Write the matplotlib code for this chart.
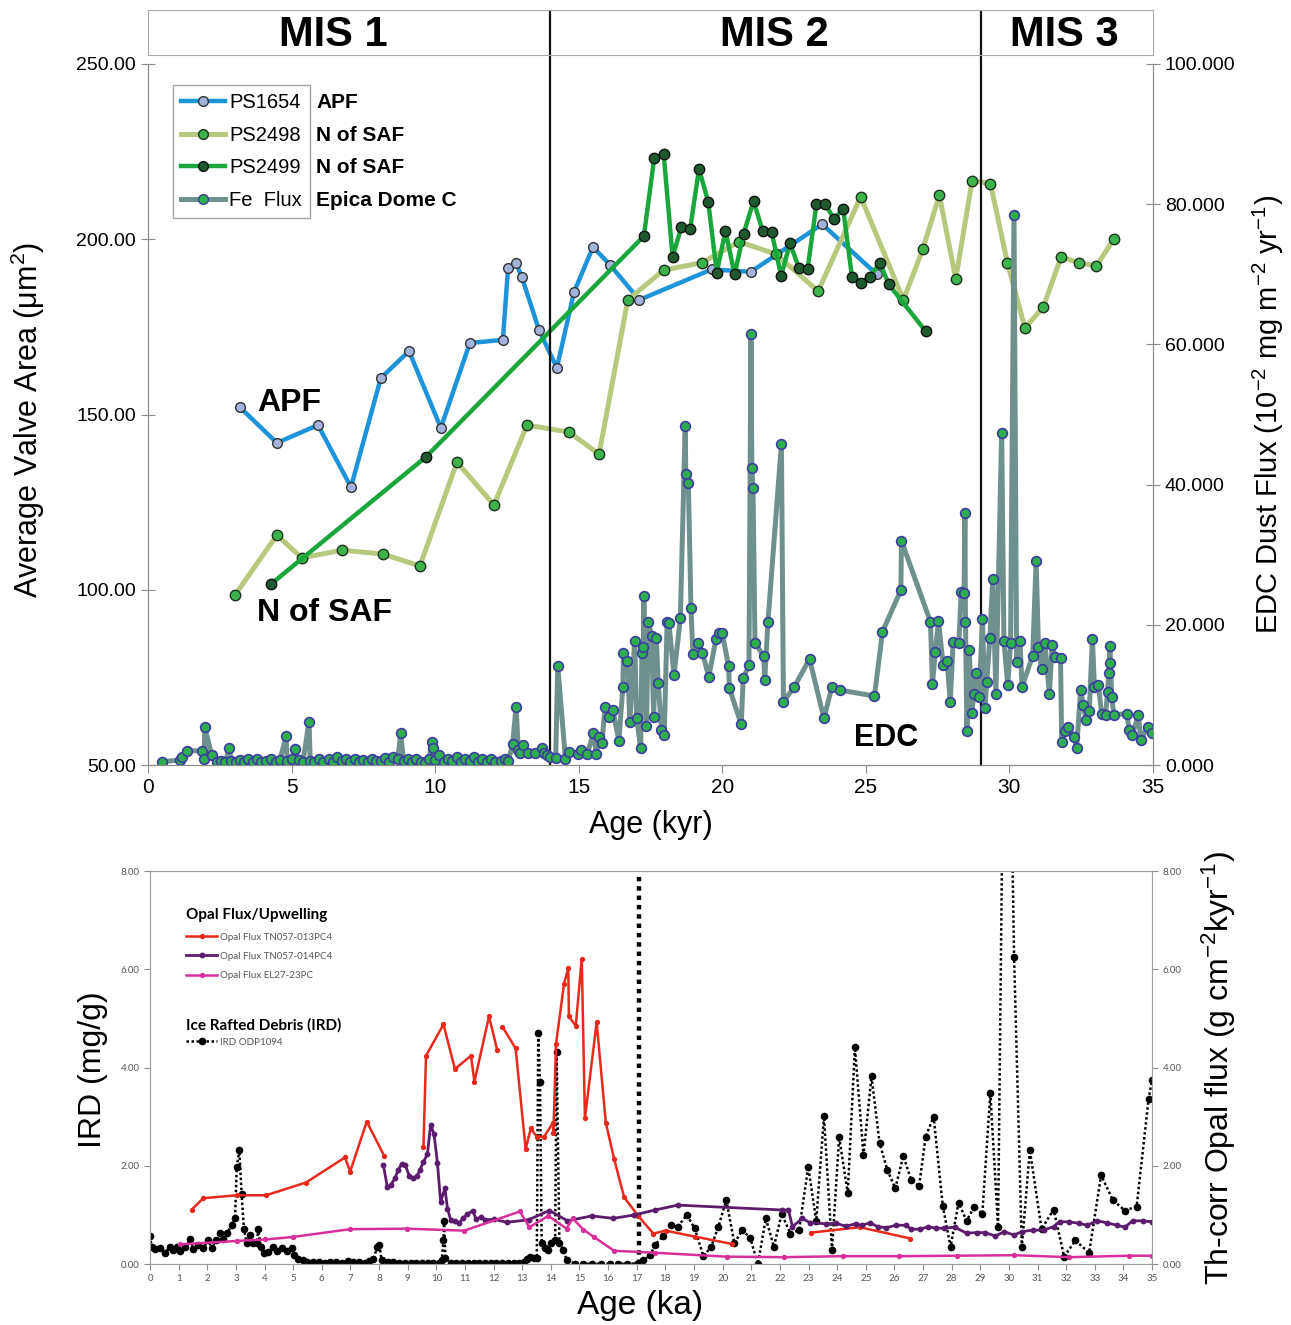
import numpy as np
import matplotlib
matplotlib.use("Agg")
import matplotlib.pyplot as plt
from matplotlib.lines import Line2D
from matplotlib import font_manager

plt.rcParams['font.family'] = ['Liberation Sans', 'DejaVu Sans']
plt.rcParams['mathtext.default'] = 'regular'
_names = {f.name for f in font_manager.fontManager.ttflist}
NARROW = 'Liberation Sans Narrow' if 'Liberation Sans Narrow' in _names else 'Liberation Sans'
SMALL = 'Lato' if 'Lato' in _names else 'DejaVu Sans'

# ---------------- top panel data (valve area, EDC dust) ----------------
ps1654_age = [3.2, 4.49, 5.92, 7.07, 8.11, 9.09, 10.2, 11.21, 12.36, 12.54, 12.82, 13.02, 13.62,
              14.24, 14.84, 15.5, 16.09, 17.11, 19.63, 20.99, 23.48, 25.38]
ps1654_val = [152.1, 141.9, 147.0, 129.3, 160.4, 168.1, 146.2, 170.4, 171.3, 191.8, 193.2, 189.2, 174.1,
              163.3, 185.0, 197.8, 192.7, 182.7, 191.4, 190.7, 204.3, 190.0]

ps2498_age = [3.03, 4.49, 5.36, 6.76, 8.18, 9.47, 10.76, 12.05, 13.2, 14.66, 15.71, 16.71, 17.96, 19.29,
              20.59, 21.86, 23.34, 24.82, 26.31, 26.98, 27.56, 28.13, 28.70, 29.34, 29.93, 30.54, 31.18,
              31.80, 32.41, 33.03, 33.65]
ps2498_val = [98.5, 115.6, 109.1, 111.3, 110.2, 106.8, 136.4, 124.2, 147.0, 145.0, 138.7, 182.7, 191.2, 193.3,
              199.3, 195.8, 185.2, 212.1, 182.7, 197.1, 212.6, 188.7, 216.7, 215.9, 193.3, 174.7, 180.6,
              195.0, 193.3, 192.4, 200.2]

ps2499_age = [4.28, 9.68, 17.27, 17.63, 17.96, 18.27, 18.58, 18.88, 19.19, 19.51, 19.81, 20.11, 20.43,
              20.74, 21.09, 21.41, 21.72, 22.05, 22.36, 22.67, 22.97, 23.28, 23.59, 23.89, 24.21, 24.52,
              24.83, 25.14, 25.49, 25.80, 27.08]
ps2499_val = [101.6, 137.9, 200.9, 223.1, 224.3, 195.0, 203.6, 202.8, 220.1, 210.7, 190.5, 202.4, 190.0,
              201.5, 210.9, 202.3, 202.0, 189.6, 198.9, 191.8, 191.4, 210.0, 210.0, 205.8, 208.7, 189.1,
              187.4, 189.3, 193.3, 187.1, 173.8]

edc_age = [0.48, 1.11, 1.17, 1.35, 1.87, 1.95, 1.98, 2.22, 2.40, 2.55, 2.70, 2.83, 2.90, 3.05, 3.20, 3.35,
           3.50, 3.65, 3.80, 3.95, 4.10, 4.30, 4.45, 4.60, 4.81, 4.85, 5.00, 5.12, 5.25, 5.40, 5.61, 5.65,
           5.80, 5.95, 6.10, 6.30, 6.45, 6.60, 6.75, 6.90, 7.05, 7.20, 7.35, 7.50, 7.65, 7.80, 7.95, 8.10,
           8.25, 8.40, 8.55, 8.70, 8.80, 8.90, 9.05, 9.20, 9.35, 9.50, 9.65, 9.80, 9.88, 9.92, 10.00, 10.15,
           10.30, 10.45, 10.60, 10.75, 10.90, 11.05, 11.20, 11.35, 11.50, 11.65, 11.80, 11.95, 12.10, 12.30,
           12.45, 12.55, 12.70, 12.82, 12.90, 12.96, 13.07, 13.25, 13.48, 13.71, 13.79, 13.88, 14.00, 14.20,
           14.27, 14.54, 14.68, 14.96, 15.09, 15.30, 15.51, 15.62, 15.71, 15.81, 15.92, 16.06, 16.19, 16.40,
           16.54, 16.56, 16.70, 16.78, 16.95, 17.02, 17.16, 17.20, 17.25, 17.27, 17.36, 17.43, 17.54, 17.61,
           17.70, 17.77, 17.88, 17.98, 18.08, 18.14, 18.32, 18.54, 18.71, 18.73, 18.82, 18.91, 18.98, 19.17,
           19.31, 19.53, 19.78, 19.90, 20.00, 20.22, 20.25, 20.66, 20.73, 20.93, 21.00, 21.03, 21.07, 21.14,
           21.44, 21.48, 21.59, 22.06, 22.13, 22.51, 23.04, 23.54, 23.82, 24.09, 25.30, 25.58, 26.22, 26.24,
           27.25, 27.32, 27.42, 27.53, 27.69, 27.83, 27.94, 28.04, 28.24, 28.32, 28.42, 28.45, 28.47, 28.52,
           28.60, 28.69, 28.76, 28.84, 28.95, 29.06, 29.15, 29.21, 29.32, 29.42, 29.53, 29.73, 29.81, 29.94,
           30.04, 30.16, 30.25, 30.37, 30.44, 30.81, 30.93, 31.01, 31.12, 31.24, 31.39, 31.49, 31.59, 31.78,
           31.82, 31.94, 32.05, 32.25, 32.34, 32.48, 32.57, 32.67, 32.78, 32.89, 32.96, 33.10, 33.21, 33.35,
           33.42, 33.46, 33.50, 33.52, 33.56, 33.64, 34.08, 34.18, 34.28, 34.49, 34.58, 34.81, 34.98]
edc_val = [0.47, 0.71, 1.19, 2.04, 2.04, 0.85, 5.37, 1.43, 0.50, 0.60, 0.40, 2.37, 0.55, 0.45, 0.70, 0.40,
           0.85, 0.50, 0.90, 0.45, 0.60, 0.90, 0.50, 0.75, 4.13, 0.60, 0.90, 2.23, 0.70, 0.50, 6.18, 0.60,
           0.40, 0.80, 0.50, 0.90, 0.40, 1.20, 0.60, 0.90, 0.45, 0.80, 0.40, 0.70, 0.50, 0.90, 0.55, 0.60,
           1.00, 0.45, 1.20, 0.80, 4.51, 0.60, 0.90, 0.40, 0.80, 0.50, 0.30, 0.80, 3.33, 2.37, 0.70, 1.40,
           0.50, 0.90, 0.60, 1.10, 0.50, 0.80, 0.60, 1.10, 0.50, 0.90, 0.40, 0.80, 0.50, 0.60,
           0.90, 0.60, 3.00, 8.32, 2.10, 1.76, 2.85, 1.76, 1.66, 2.37, 1.66, 1.43, 1.20, 0.95,
           14.12, 0.81, 1.90, 1.57, 2.14, 1.57, 4.51, 1.57, 4.04, 3.18, 8.32, 6.89, 7.84, 3.47,
           11.17, 16.02, 14.88, 6.18, 17.69, 6.65, 2.37, 15.93, 16.88, 24.10, 5.56, 20.44, 18.40, 6.89,
           18.16, 11.74, 4.99, 4.28, 20.44, 20.30, 12.84, 20.92, 48.36, 41.51, 40.18, 22.35, 15.83, 17.45,
           16.02, 12.60, 17.92, 18.78, 18.78, 14.12, 10.93, 5.80, 12.36, 14.26, 61.48, 42.32, 39.56, 17.45,
           15.55, 12.12, 20.44, 45.79, 9.03, 11.17, 15.12, 6.65, 11.17, 10.70, 9.84, 19.02, 24.96, 32.00,
           20.44, 11.55, 16.17, 20.59, 14.26, 14.83, 9.03, 17.50, 17.35, 24.72, 24.49, 35.99, 20.44, 4.89,
           16.40, 7.37, 10.08, 13.13, 9.67, 20.81, 8.19, 11.87, 18.17, 26.57, 10.11, 47.36, 17.63, 11.43,
           17.35, 78.51, 14.77, 17.63, 11.15, 15.60, 29.14, 16.91, 13.68, 17.35, 10.11, 17.19, 15.43, 15.27,
           3.25, 4.90, 5.45, 4.02, 2.38, 10.66, 8.57, 6.49, 7.64, 18.01, 11.15, 11.43, 7.31, 7.20,
           10.49, 13.13, 16.97, 14.61, 9.67, 7.20, 7.31, 5.01, 4.35, 7.09, 3.53, 5.45, 4.63]

mis_names = ['MIS 1', 'MIS 2', 'MIS 3']
mis_bounds = [14, 29]

# ---------------- bottom panel data (opal flux, IRD) ----------------
nan = np.nan
opal013_age = [1.46, 1.86, 3.03, 4.05, 5.45, 6.81, 6.99, 7.57, 8.19, nan, 9.55, 9.64, 10.25, 10.65, 11.21,
               11.33, 11.84, 12.13, nan, 12.31, 12.77, 13.12, 13.30, 13.51, 13.76, 14.07, 14.09, 14.18,
               14.46, 14.61, 14.63, 14.87, 15.08, 15.19, 15.60, 15.92, 16.21, 16.56, 17.05, 17.58, 18.01,
               19.02, 20.32, nan, 23.09, 24.79, 26.56]
opal013_val = [1.11, 1.34, 1.40, 1.40, 1.66, 2.17, 1.88, 2.90, 2.19, nan, 2.38, 4.24, 4.88, 3.97, 4.24,
               3.71, 5.04, 4.35, nan, 4.83, 4.39, 2.34, 2.76, 2.59, 2.59, 2.87, 2.66, 4.48,
               5.70, 6.02, 5.04, 4.85, 6.21, 2.97, 4.92, 2.88, 2.14, 1.36, 0.98, 0.62, 0.68,
               0.56, 0.41, nan, 0.64, 0.75, 0.52]

opal014_age = [8.15, 8.29, 8.41, 8.56, 8.67, 8.79, 8.91, 9.06, 9.2, 9.32, 9.43, 9.55, 9.69, 9.80, 9.92,
               10.04, 10.15, 10.30, 10.39, 10.50, 10.65, 10.8, 10.92, 11.08, 11.27, 11.39, 11.55, 11.70,
               12.02, 12.46, 13.22, 13.95, 14.58, 15.43, 16.18, 16.92, 17.64, 18.43, 22.09, 22.30, 22.44,
               22.78, 23.06, 23.61, 23.96, 24.30, 24.65, 24.86, 25.16, 25.41, 25.71, 26.07, 26.40, 26.58,
               26.90, 27.18, 27.45, 27.73, 28.1, 28.52, 28.89, 29.17, 29.53, 29.83, 30.18, 30.45, 30.83,
               31.21, 31.56, 31.77, 32.11, 32.43, 32.73, 33.08, 33.42, 33.77, 34.05, 34.32, 34.67, 35.0]
opal014_val = [2.02, 1.56, 1.61, 1.75, 1.92, 2.04, 2.02, 1.79, 1.75, 1.79, 1.92, 2.08, 2.24, 2.83, 2.65,
               2.05, 1.27, 1.54, 1.13, 0.90, 0.88, 0.83, 0.93, 1.01, 1.09, 0.91, 0.96, 0.90,
               0.91, 0.85, 0.90, 1.09, 0.88, 0.98, 0.93, 1.00, 1.10, 1.20, 1.10, 1.10, 0.76,
               0.93, 0.84, 0.82, 0.83, 0.77, 0.82, 0.79, 0.84, 0.76, 0.74, 0.79, 0.79, 0.71,
               0.71, 0.76, 0.73, 0.73, 0.75, 0.63, 0.64, 0.64, 0.57, 0.66, 0.59, 0.66, 0.69,
               0.69, 0.76, 0.86, 0.86, 0.83, 0.79, 0.88, 0.84, 0.79, 0.75, 0.88, 0.88, 0.86]

el27_age = [1.03, 3.03, 4.02, 4.98, 6.99, 8.97, 10.98, 12.92, 13.25, 13.91, 14.55, 14.76, 15.14, 15.51,
            16.21, 17.64, 20.16, 22.16, 24.19, 26.17, 28.17, 30.18, 32.11, 34.21, 35.0]
el27_val = [0.40, 0.47, 0.50, 0.55, 0.71, 0.72, 0.68, 1.07, 0.75, 0.98, 0.72, 0.93, 0.70, 0.55,
            0.27, 0.23, 0.15, 0.14, 0.16, 0.16, 0.17, 0.18, 0.14, 0.17, 0.17]

ird_age = [0.0, 0.06, 0.17, 0.35, 0.52, 0.70, 0.82, 0.93, 1.05, 1.22, 1.40, 1.51, 1.69, 1.86, 2.04, 2.15,
           2.31, 2.45, 2.56, 2.70, 2.85, 2.97, 3.03, 3.12, 3.20, 3.28, 3.38, 3.49, 3.61, 3.73, 3.78, 3.87,
           3.98, 4.13, 4.31, 4.45, 4.60, 4.77, 4.95, 5.03, 5.18, 5.35, 5.50, 5.70, 5.90, 6.10, 6.30, 6.50,
           6.70, 6.90, 7.10, 7.30, 7.50, 7.65, 7.80, 7.94, 8.01, 8.09, 8.30, 8.50, 8.70, 8.90, 9.10, 9.30,
           9.50, 9.70, 9.90, 10.10, 10.19, 10.25, 10.27, 10.32, 10.50, 10.70, 10.90, 11.10, 11.30, 11.50,
           11.70, 11.90, 12.10, 12.30, 12.50, 12.70, 12.90, 13.05, 13.16, 13.27, 13.40, 13.51, 13.56, 13.62,
           13.68, 13.80, 13.91, 14.00, 14.15, 14.20, 14.30, 14.44, 14.55, 14.84, 15.14, 15.45, 15.75, 16.05,
           16.35, 16.65, 17.00, 17.23, 17.47, 17.64, 17.92, 18.19, 18.43, 18.75, 19.02, 19.33, 19.60, 19.85,
           20.13, 20.41, 20.68, 20.96, 21.23, 21.51, 21.79, 22.06, 22.37, 22.67, 22.99, 23.27, 23.54, 23.82,
           24.07, 24.37, 24.62, 24.92, 25.20, 25.48, 25.75, 26.03, 26.31, 26.58, 26.86, 27.09, 27.37, 27.69,
           27.96, 28.24, 28.52, 28.79, 29.07, 29.35, 29.62, 29.90, 30.18, 30.45, 30.73, 31.14, 31.56, 31.93,
           32.32, 32.80, 33.22, 33.63, 34.05, 34.46, 34.88, 35.00]
ird_val = [0.57, 0.34, 0.30, 0.32, 0.22, 0.35, 0.29, 0.34, 0.27, 0.35, 0.50, 0.30, 0.39, 0.32, 0.49, 0.32,
           0.49, 0.64, 0.52, 0.63, 0.79, 0.93, 1.98, 2.32, 1.42, 0.71, 0.42, 0.59, 0.42, 0.42, 0.71, 0.35,
           0.22, 0.25, 0.34, 0.27, 0.32, 0.27, 0.32, 0.18, 0.11, 0.08, 0.05, 0.04, 0.05, 0.03, 0.04, 0.05,
           0.03, 0.06, 0.04, 0.05, 0.03, 0.06, 0.10, 0.35, 0.39, 0.08, 0.05, 0.04, 0.03, 0.03, 0.02, 0.03,
           0.02, 0.03, 0.02, 0.03, 0.08, 0.49, 0.88, 0.12, 0.03, 0.02, 0.02, 0.03, 0.02, 0.02,
           0.03, 0.02, 0.02, 0.03, 0.02, 0.02, 0.03, 0.05, 0.10, 0.14, 0.12, 0.12, 4.71, 3.71,
           0.42, 0.32, 0.29, 0.42, 0.49, 4.32, 0.42, 0.29, 0.08, 0.01, 0.01, 0.00, 0.01, 0.00,
           0.00, 0.01, 0.01, 0.08, 0.18, 0.39, 0.57, 0.79, 0.76, 1.00, 0.73, 0.16, 0.35, 0.76,
           1.30, 0.42, 0.69, 0.54, 0.00, 0.93, 0.35, 1.02, 0.62, 0.69, 1.98, 0.88, 3.01, 0.29,
           2.59, 1.44, 4.41, 2.22, 3.82, 2.47, 1.92, 1.54, 2.20, 1.72, 1.58, 2.59, 3.00, 1.18,
           0.35, 1.25, 0.88, 1.17, 1.02, 3.48, 0.76, 16.0, 6.26, 0.35, 2.32, 0.71, 1.11, 0.15,
           0.48, 0.23, 1.81, 1.30, 1.09, 1.17, 3.37, 3.75]
lgm_line = 17.08

# ---------------- figure ----------------
fig = plt.figure(figsize=(12.91, 13.25), dpi=100)
GREY = '#8c8c8c'

ax = fig.add_axes([0.1146, 0.4226, 0.7785, 0.5291])
axr = ax.twinx()
hdr = fig.add_axes([0.1146, 0.9585, 0.7785, 0.034])

ax.plot(ps1654_age, ps1654_val, color='#1d93d9', lw=3.2, marker='o', ms=7, mfc='#a4b3dc', mec='#333333', mew=1.0)
ax.plot(ps2498_age, ps2498_val, color='#b7c97d', lw=3.6, marker='o', ms=7.5, mfc='#3cb44b', mec='#1e301e', mew=1.0)
ax.plot(ps2499_age, ps2499_val, color='#19a63a', lw=3.2, marker='o', ms=7.5, mfc='#1f5a2f', mec='#111111', mew=1.0)
axr.plot(edc_age, edc_val, color='#6f918e', lw=3.6, marker='o', ms=7, mfc='#2fae50', mec='#3c3ca0', mew=1.2)

ax.set_xlim(0, 35)
ax.set_ylim(50, 250)
axr.set_ylim(0, 100)
ax.set_xticks(range(0, 36, 5))
ax.set_yticks(np.arange(50, 251, 50))
ax.set_yticklabels([f'{v:.2f}' for v in np.arange(50, 251, 50)])
axr.set_yticks(np.arange(0, 101, 20))
axr.set_yticklabels([f'{v:.3f}' for v in np.arange(0, 101, 20)])
ax.tick_params(axis='x', direction='out', length=6, labelsize=15, color=GREY)
ax.tick_params(axis='y', direction='inout', length=10, labelsize=14, color=GREY)
axr.tick_params(axis='y', direction='inout', length=10, labelsize=14, color=GREY)
for a in (ax, axr):
    a.spines['top'].set_visible(False)
    for s in ('left', 'right', 'bottom'):
        a.spines[s].set_color(GREY)

for b in mis_bounds:
    ax.axvline(b, ymin=0, ymax=1.015, color='#111111', lw=1.6, clip_on=False)

ax.set_xlabel('Age (kyr)', fontsize=22)
ax.xaxis.set_label_coords(0.5005, -0.064)
ax.set_ylabel('Average Valve Area ($\\mu m^{2}$)', fontsize=22)
ax.yaxis.set_label_coords(-0.1005, 0.492)
axr.set_ylabel('EDC Dust Flux (10$^{-2}$ mg m$^{-2}$ yr$^{-1}$)', fontsize=21)
axr.yaxis.set_label_coords(1.097, 0.50)

ax.text(3.8, 151, 'APF', fontsize=23, fontweight='bold', ha='left', va='baseline')
ax.text(3.8, 91, 'N of SAF', fontsize=23, fontweight='bold', ha='left', va='baseline')
ax.text(24.6, 55.5, 'EDC', fontsize=22, fontweight='bold', ha='left', va='baseline')

handles = [
    Line2D([], [], color='#1d93d9', lw=3.2, marker='o', ms=7, mfc='#a4b3dc', mec='#333333'),
    Line2D([], [], color='#b7c97d', lw=3.6, marker='o', ms=7, mfc='#3cb44b', mec='#1e301e'),
    Line2D([], [], color='#19a63a', lw=3.2, marker='o', ms=7, mfc='#1f5a2f', mec='#111111'),
    Line2D([], [], color='#6f918e', lw=3.6, marker='o', ms=7, mfc='#2fae50', mec='#3c3ca0'),
]
leg = axr.legend(handles, ['PS1654', 'PS2498', 'PS2499', 'Fe  Flux'], loc='upper left',
                 bbox_to_anchor=(0.0249, 0.970), fontsize=14.5, frameon=True, fancybox=False,
                 edgecolor=GREY, handlelength=2.2, handletextpad=0.2, borderpad=0.4,
                 labelspacing=0.68, borderaxespad=0)
leg.get_frame().set_linewidth(1.0)
descs = ['APF', 'N of SAF', 'N of SAF', 'Epica Dome C']
fig.canvas.draw()
rend = fig.canvas.get_renderer()
x_right = leg.get_window_extent(rend).x1 + 6
for t, d in zip(leg.get_texts(), descs):
    bb = t.get_window_extent(rend)
    fx, fy = fig.transFigure.inverted().transform((x_right, (bb.y0 + bb.y1) / 2))
    fig.text(fx, fy, d, fontsize=15, fontweight='bold', ha='left', va='center')

hdr.set_xlim(0, 35)
hdr.set_ylim(0, 1)
hdr.set_xticks([])
hdr.set_yticks([])
for s in hdr.spines.values():
    s.set_color('#aaaaaa')
for b in mis_bounds:
    hdr.axvline(b, color='#111111', lw=1.6)
for name, x in zip(mis_names, [6.44, 21.8, 31.9]):
    hdr.text(x, 0.45, name, fontsize=34 if NARROW != 'Liberation Sans' else 30, fontweight='bold',
             family=NARROW, ha='center', va='center')

# ---------------- bottom panel ----------------
ax2 = fig.add_axes([0.1162, 0.0460, 0.7762, 0.2966])
ax2r = ax2.twinx()

ax2.axvline(lgm_line, ymin=0, ymax=0.99, color='black', lw=3.2, ls=(0, (1, 1.1)))
ax2.plot(ird_age, ird_val, color='black', lw=1.8, ls=(0, (1, 1)), marker='o', ms=4.5, mfc='black', mec='black')
ax2r.plot(opal013_age, opal013_val, color='#e8291c', lw=1.8, marker='o', ms=2.8)
ax2r.plot(opal014_age, opal014_val, color='#5c1b6c', lw=2.0, marker='o', ms=3.2)
ax2r.plot(el27_age, el27_val, color='#d8309a', lw=1.8, marker='o', ms=2.8)

for a in (ax2, ax2r):
    a.set_xlim(0, 35)
    a.set_ylim(0, 8)
    a.set_yticks(np.arange(0, 8.1, 2))
    a.set_yticklabels([f'{v:.2f}' for v in np.arange(0, 8.1, 2)], family=SMALL)
    a.tick_params(axis='y', labelsize=7, labelcolor='#555555', color=GREY, length=4)
    for s in a.spines.values():
        s.set_color('#a0a0a0')
ax2.set_xticks(range(0, 36))
ax2.set_xticklabels([str(i) for i in range(0, 36)], family=SMALL)
ax2.tick_params(axis='x', labelsize=7, labelcolor='#555555', color=GREY, length=4)

ax2.set_xlabel('Age (ka)', fontsize=24)
ax2.xaxis.set_label_coords(0.489, -0.066)
ax2.set_ylabel('IRD (mg/g)', fontsize=23)
ax2.yaxis.set_label_coords(-0.042, 0.494)
ax2r.set_ylabel('Th-corr Opal flux (g cm$^{-2}$kyr$^{-1}$)', fontsize=23)
ax2r.yaxis.set_label_coords(1.048, 0.499)

opal_handles = [
    Line2D([], [], color='#e8291c', lw=1.8, marker='o', ms=2.8),
    Line2D([], [], color='#5c1b6c', lw=2.0, marker='o', ms=3.2),
    Line2D([], [], color='#d8309a', lw=1.8, marker='o', ms=2.8),
]
leg1 = ax2r.legend(opal_handles, ['Opal Flux TN057-013PC4', 'Opal Flux TN057-014PC4', 'Opal Flux EL27-23PC'],
                   title='Opal Flux/Upwelling', loc='upper left', bbox_to_anchor=(0.036, 0.905),
                   frameon=False, prop={'family': SMALL, 'size': 7}, labelcolor='#555555',
                   title_fontproperties={'family': SMALL, 'weight': 'bold', 'size': 11},
                   alignment='left', handlelength=3.2, handletextpad=0.3, labelspacing=1.05,
                   borderaxespad=0, borderpad=0)
ax2r.add_artist(leg1)
ird_handle = Line2D([], [], color='black', lw=1.8, ls=(0, (1, 1)), marker='o', ms=4.5)
leg2 = ax2r.legend([ird_handle], ['IRD ODP1094'], title='Ice Rafted Debris (IRD)', loc='upper left',
                   bbox_to_anchor=(0.036, 0.625), frameon=False, prop={'family': SMALL, 'size': 7},
                   labelcolor='#555555', title_fontproperties={'family': SMALL, 'weight': 'bold', 'size': 11},
                   alignment='left', handlelength=3.2, handletextpad=0.3, borderaxespad=0, borderpad=0)

fig.savefig('out.png', dpi=100)
